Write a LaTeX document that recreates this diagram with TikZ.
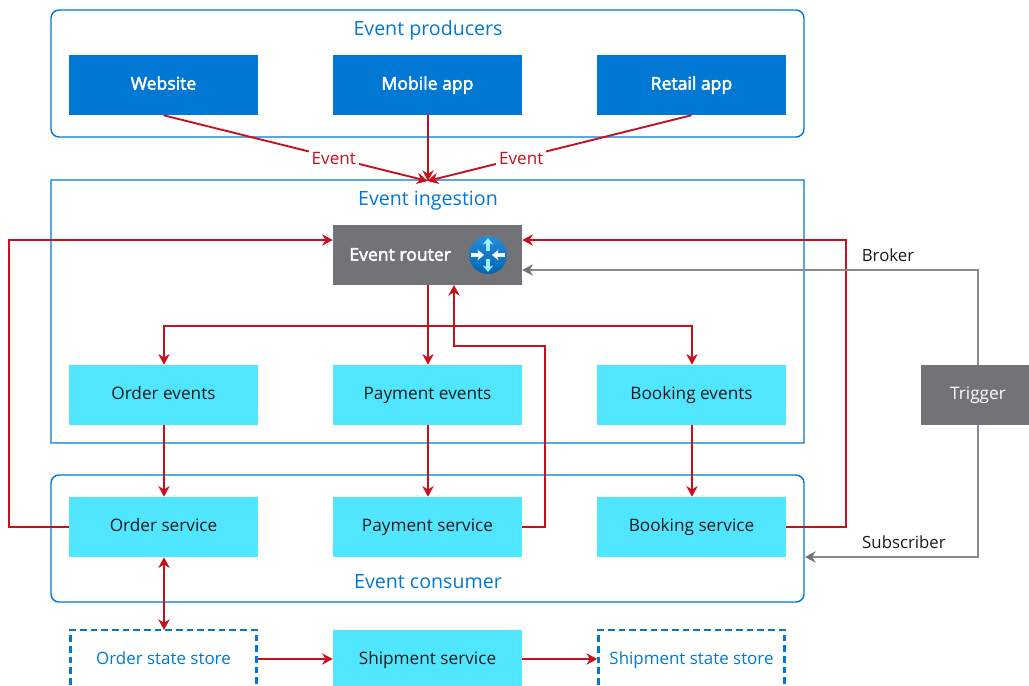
\documentclass[tikz,border=0pt]{standalone}
\usepackage{fontspec}
\setmainfont{Open Sans}
\newfontfamily\semib[FakeBold=2.6]{Open Sans}
\usetikzlibrary{arrows.meta,calc}
\definecolor{azblue}{HTML}{0078D4}
\definecolor{azcyan}{HTML}{50E6FF}
\definecolor{azgray}{HTML}{737377}
\definecolor{azred}{HTML}{C80F1E}
\definecolor{aztext}{HTML}{1A1A1A}
\definecolor{azline}{HTML}{8A8A8E}
\tikzset{
  x=0.75pt,y=-0.75pt,
  container/.style={draw=azblue,line width=1.1pt,inner sep=0pt},
  grptitle/.style={text=azblue,font=\fontsize{14.7}{18}\selectfont,inner sep=0pt,text height=11pt,text depth=3.5pt},
  boxbase/.style={minimum width=141.75pt,minimum height=45pt,inner sep=0pt,anchor=center,text height=10pt,text depth=3pt},
  producer/.style={boxbase,fill=azblue,text=white,font=\semib\fontsize{13.2}{16}\selectfont},
  service/.style={boxbase,fill=azcyan,text=aztext,font=\fontsize{12.9}{16}\selectfont},
  darkbox/.style={boxbase,fill=azgray,text=white,font=\fontsize{12.9}{16}\selectfont},
  store/.style={boxbase,minimum width=139.5pt,draw=azblue,line width=2pt,dash pattern=on 5pt off 3pt,text=azblue,font=\fontsize{12.7}{16}\selectfont},
  redarrow/.style={draw=azred,line width=1.4pt,-{Stealth[length=8pt,width=8.5pt]}},
  redboth/.style={draw=azred,line width=1.4pt,{Stealth[length=8pt,width=8.5pt]}-{Stealth[length=8pt,width=8.5pt]}},
  grayarrow/.style={draw=azline,line width=1.4pt,-{Stealth[length=8pt,width=8.5pt,color=azgray]}},
  evlabel/.style={text=azred,fill=white,inner sep=2pt,font=\fontsize{12.8}{16}\selectfont},
  sidelabel/.style={text=aztext,inner sep=0pt,font=\fontsize{12.6}{16}\selectfont},
  iconarrow/.style={draw=white,line width=2.4pt,-{Stealth[length=5pt,width=8pt]}},
}
\begin{document}
\begin{tikzpicture}
\useasboundingbox (0,0) rectangle (1029,686);
\clip (0,0) rectangle (1029,686);
% containers
\draw[container,rounded corners=6pt] (51,10) rectangle (804,137);
\draw[container,rounded corners=0.1pt] (51,180) rectangle (804,443);
\draw[container,rounded corners=6pt] (51,475) rectangle (804,602);
\node[grptitle] (tprod) at (428,30) {Event producers};
\node[grptitle] (ting) at (428,200) {Event ingestion};
\node[grptitle] (tcons) at (428,583) {Event consumer};
% boxes
\node[producer] (web) at (163.5,85) {Website};
\node[producer] (mob) at (427.5,85) {Mobile app};
\node[producer] (ret) at (691.5,85) {Retail app};
\node[darkbox,font=\semib\fontsize{13.2}{16}\selectfont] (router) at (427.5,255) {\hspace{-41pt}\raisebox{-0.75pt}{Event router}};
\node[service] (oe) at (163.5,395) {Order events};
\node[service] (pe) at (427.5,395) {Payment events};
\node[service] (be) at (691.5,395) {Booking events};
\node[service] (os) at (163.5,527) {Order service};
\node[service] (ps) at (427.5,527) {Payment service};
\node[service] (bs) at (691.5,527) {Booking service};
\node[store] (oss) at (163.5,660) {Order state store};
\node[service] (ship) at (427.5,659.5) {Shipment service};
\node[store] (sss) at (691.5,660) {Shipment state store};
\node[darkbox,minimum width=85.5pt] (trig) at (978,395) {Trigger};
% router icon
\shade[top color=azblue!85!white,bottom color=azblue!85!black] (488,255) circle (19);
\node[circle,minimum size=28.5pt,inner sep=0pt] (icon) at (488,255) {};
\draw[iconarrow] (471,255) -- (484,255);
\draw[iconarrow] (505,255) -- (492,255);
\draw[iconarrow,draw=azcyan!60!white] (488,251) -- (488,238);
\draw[iconarrow,draw=azcyan!60!white] (488,259) -- (488,272);
% event arrows
\coordinate (hub) at (427.5,181);
\draw[redarrow] (web.south) -- (hub) node[pos=0.645,evlabel,yshift=-0.75pt] (ev1) {Event};
\draw[redarrow] ([xshift=.375pt]mob.south) -- ([xshift=.375pt]hub);
\draw[redarrow] (ret.south) -- (hub) node[pos=0.645,evlabel,yshift=-0.75pt] (ev2) {Event};
% router to events
\coordinate (split) at (428,326);
\draw[redarrow] ([xshift=.375pt]router.south) -- ([xshift=.375pt]pe.north);
\draw[redarrow] (split) -| ([xshift=.375pt]oe.north);
\draw[redarrow] (split) -| ([xshift=.375pt]be.north);
% events to services
\draw[redarrow] ([xshift=.375pt]oe.south) -- ([xshift=.375pt]os.north);
\draw[redarrow] ([xshift=.375pt]pe.south) -- ([xshift=.375pt]ps.north);
\draw[redarrow] ([xshift=.375pt]be.south) -- ([xshift=.375pt]bs.north);
% services back to router
\coordinate (rw) at (router.west |- 0,240);
\coordinate (re) at (router.east |- 0,240);
\draw[redarrow] (os.west) -- (9,527) -- (9,240) -- (rw);
\draw[redarrow] (bs.east) -- (846,527) -- (846,240) -- (re);
\coordinate (rs) at (454,285);
\draw[redarrow] (ps.east) -- (545,527) -- (545,346) -- (454,346) -- (rs);
% stores
\coordinate (osn) at (164,630);
\draw[redboth] ([xshift=.375pt]os.south) -- (osn);
\draw[redarrow] ([yshift=.375pt]oss.east |- ship.west) -- ([yshift=.375pt]ship.west);
\draw[redarrow] ([yshift=.375pt]ship.east) -- ([yshift=.375pt]sss.west |- ship.east);
% trigger
\coordinate (rb) at (router.east |- 0,270);
\coordinate (cs) at (805,557);
\draw[grayarrow] (trig.north) -- (978,270) -- (rb);
\draw[grayarrow] (trig.south) -- (978,557) -- (cs);
\node[sidelabel] (lb) at (888,255) {Broker};
\node[sidelabel] (ls) at (904,542) {Subscriber};
\end{tikzpicture}
\end{document}
